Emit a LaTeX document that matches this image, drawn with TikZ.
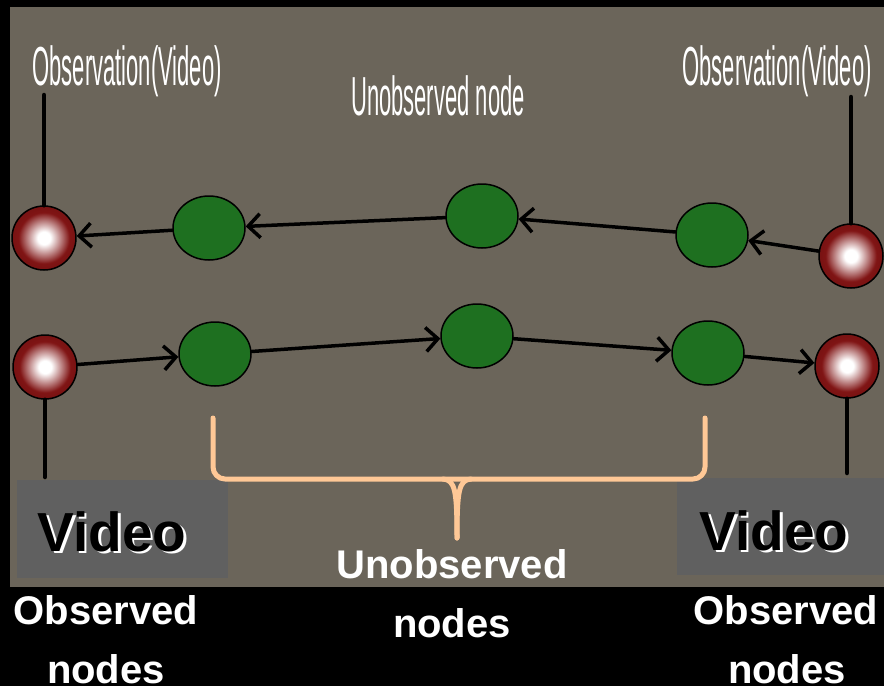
\documentclass[tikz,border=0pt]{standalone}
\usepackage{fontspec}
\setmainfont{Liberation Sans}
\newfontfamily\narrowfont[FakeStretch=0.4]{Liberation Sans}
\usetikzlibrary{arrows.meta,shapes.geometric}
\definecolor{photobg}{RGB}{107,101,90}
\definecolor{boxgray}{RGB}{96,96,96}
\definecolor{nodegreen}{RGB}{30,112,32}
\definecolor{nodered}{RGB}{128,20,20}
\definecolor{bracepeach}{RGB}{255,200,150}
\pgfdeclareradialshading{obsball}{\pgfpoint{0bp}{0bp}}{color(0bp)=(white); color(5bp)=(white);
	color(20bp)=(nodered); color(28bp)=(nodered!90!black); color(50bp)=(nodered!90!black)}
\begin{document}
\begin{tikzpicture}[x=1pt,y=-1pt,line join=round,line cap=round,
	>={Straight Barb[length=12pt,width=24pt]},
	obs/.style={circle,draw=black,line width=1.5pt,minimum size=64pt,inner sep=0pt,
		shading=obsball},
	hid/.style={ellipse,draw=black,line width=1.5pt,minimum width=72pt,minimum height=64pt,
		inner sep=0pt,fill=nodegreen},
	link/.style={->,line width=3.5pt},
	stick/.style={line width=4.5pt},
	thin/.style={font=\narrowfont\fontsize{55}{60}\selectfont,text=white,anchor=base},
	big/.style={font=\bfseries\fontsize{40}{44}\selectfont,text=white,anchor=base},
	vid/.style={font=\bfseries\fontsize{55}{60}\selectfont,anchor=base}]
	\useasboundingbox (0,0) rectangle (884,686);
	\fill[black] (0,0) rectangle (884,686);
	\fill[photobg] (10,7) rectangle (884,587);
	%Video boxes
	\fill[boxgray] (17,480) rectangle (228,578);
	\fill[boxgray] (677,478) rectangle (884,575);
	%Texts
	\node[thin] (tobsL) at (127,85) {Observation(Video)};
	\node[thin] (tobsR) at (777,85) {Observation(Video)};
	\node[thin] (thid) at (438,115) {Unobserved node};
	\node[vid,text=white] (vidLs) at (114.5,553.5) {Video};
	\node[vid] (vidL) at (112,551) {Video};
	\node[vid,text=white] (vidRs) at (776.5,552.5) {Video};
	\node[vid] (vidR) at (774,550) {Video};
	\node[big] (obsL1) at (106,624) {Observed};
	\node[big] (obsL2) at (106,683) {nodes};
	\node[big] (obsR1) at (786,624) {Observed};
	\node[big] (obsR2) at (787,683) {nodes};
	\node[big] (hidT1) at (452,578) {Unobserved};
	\node[big] (hidT2) at (452,637) {nodes};
	%Nodes
	\node[obs] (oL1) at (44,238) {};
	\node[obs] (oL2) at (45,367) {};
	\node[obs] (oR1) at (851,256) {};
	\node[obs] (oR2) at (847,366) {};
	\node[hid] (h11) at (209,228) {};
	\node[hid] (h12) at (482,216) {};
	\node[hid] (h13) at (712,235) {};
	\node[hid] (h21) at (215,354) {};
	\node[hid] (h22) at (477,336) {};
	\node[hid] (h23) at (708,353) {};
	%Sticks to the observations
	\coordinate (sL1) at (44,95);
	\coordinate (sL2) at (45,477);
	\coordinate (sR1) at (851,97);
	\coordinate (sR2) at (847,473);
	\draw[stick] (sL1)--(oL1.north);
	\draw[stick] (oL2.south)--(sL2);
	\draw[stick] (sR1)--(oR1.north);
	\draw[stick] (oR2.south)--(sR2);
	%Chains
	\draw[link] (oR1)--(h13);
	\draw[link] (h13)--(h12);
	\draw[link] (h12)--(h11);
	\draw[link] (h11)--(oL1);
	\draw[link] (oL2)--(h21);
	\draw[link] (h21)--(h22);
	\draw[link] (h22)--(h23);
	\draw[link] (h23)--(oR2);
	%Brace
	\draw[bracepeach,line width=5pt,rounded corners=12pt] (213,418)--(213,479)--(705,479)--(705,418);
	\draw[bracepeach,line width=5pt] (443,479) .. controls (455,480) and (457,490) .. (457,538);
	\draw[bracepeach,line width=5pt] (471,479) .. controls (459,480) and (457,490) .. (457,538);
\end{tikzpicture}
\end{document}
